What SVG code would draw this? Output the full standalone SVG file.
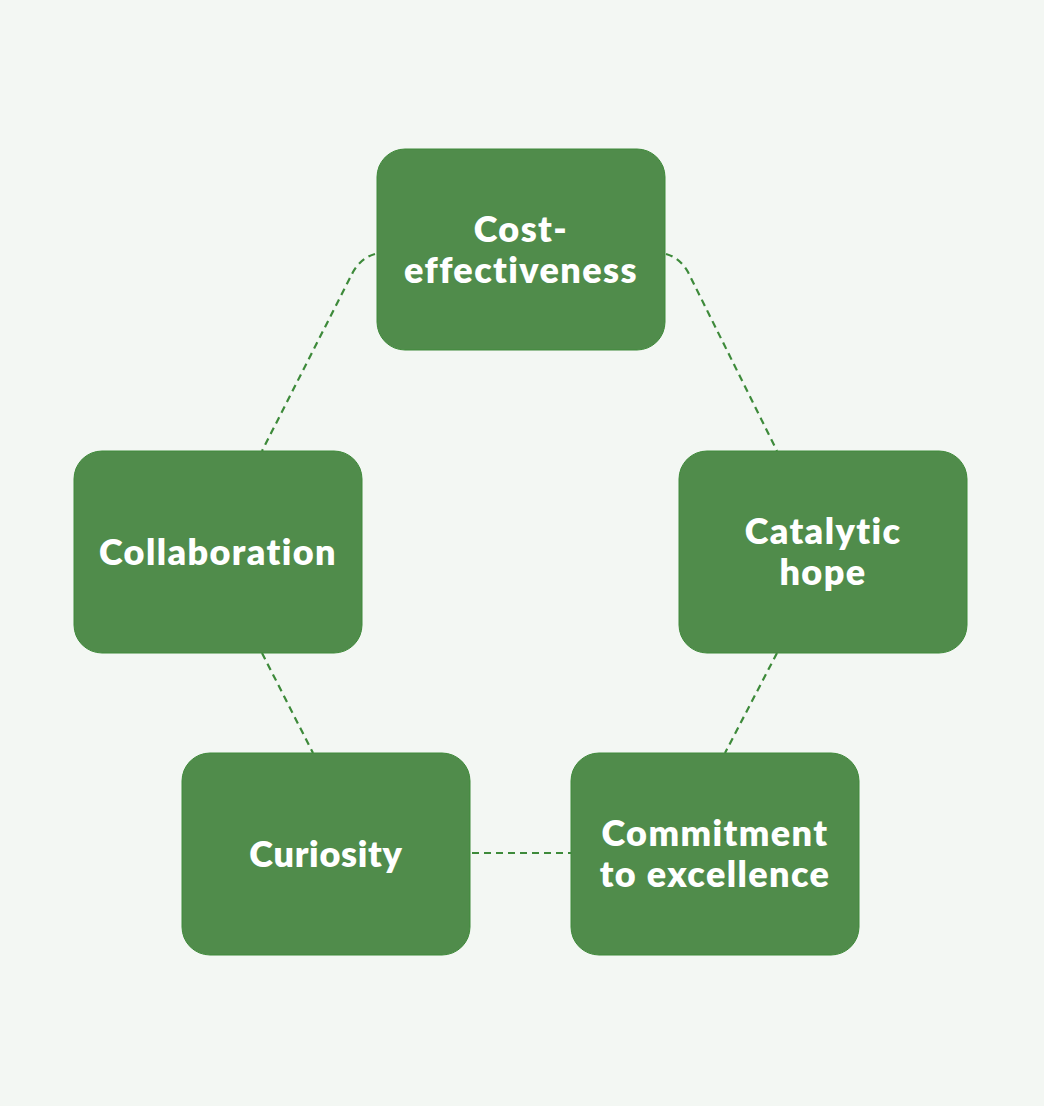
<svg xmlns="http://www.w3.org/2000/svg" width="1044" height="1106" viewBox="0 0 1044 1106">
<style>
.node{fill:#508c4b;stroke:#3f8a3a;stroke-width:1}
.lbl{font-family:Lato,"Open Sans",sans-serif;font-weight:800;font-size:36px;letter-spacing:1.4px;font-variant-ligatures:none;fill:#ffffff;text-anchor:middle}
.tight{letter-spacing:0.7px}
.conn{fill:none;stroke:#3d8a3a;stroke-width:2.2;stroke-dasharray:7,5}
</style>
<rect width="1044" height="1106" fill="#f3f7f3"/>
<g id="connectors">
<path class="conn" d="M375,254 Q361,258 353,272 L262,451"/>
<path class="conn" d="M666,254 Q680,258 688,272 L777,451"/>
<path class="conn" d="M262,653 L313,753"/>
<path class="conn" d="M777,653 L725,753"/>
<path class="conn" d="M472,853 L571,853"/>
</g>
<g id="node-cost">
<rect class="node" x="377" y="149" width="288" height="201" rx="28"/>
<text class="lbl" x="521" y="242">Cost-</text>
<text class="lbl" x="521" y="283">effectiveness</text>
</g>
<g id="node-collaboration">
<rect class="node" x="74" y="451" width="288" height="202" rx="28"/>
<text class="lbl" x="218" y="565">Collaboration</text>
</g>
<g id="node-catalytic">
<rect class="node" x="679" y="451" width="288" height="202" rx="28"/>
<text class="lbl" x="823" y="544">Catalytic</text>
<text class="lbl" x="823" y="585">hope</text>
</g>
<g id="node-curiosity">
<rect class="node" x="182" y="753" width="288" height="202" rx="28"/>
<text class="lbl tight" x="326" y="867">Curiosity</text>
</g>
<g id="node-commitment">
<rect class="node" x="571" y="753" width="288" height="202" rx="28"/>
<text class="lbl" x="715" y="846">Commitment</text>
<text class="lbl" x="715" y="887">to excellence</text>
</g>
</svg>
